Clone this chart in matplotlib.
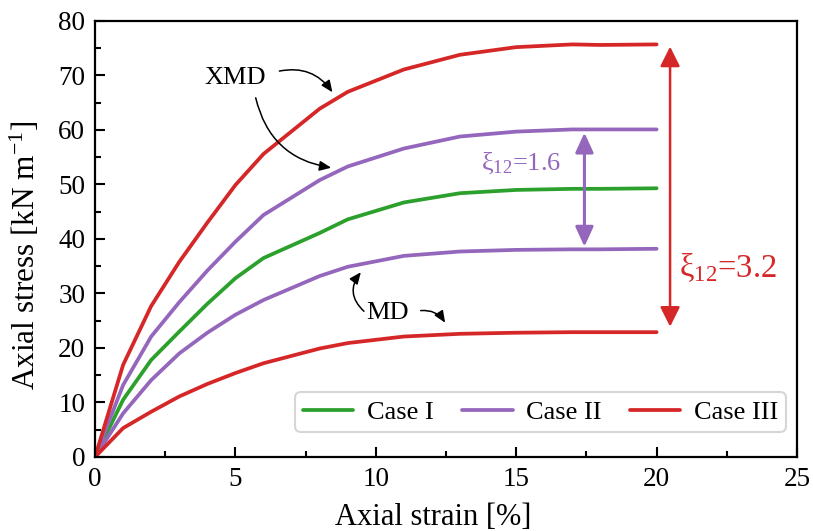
import matplotlib
matplotlib.use("Agg")
import matplotlib.pyplot as plt

plt.rcParams["font.family"] = ["Liberation Serif", "DejaVu Serif"]
plt.rcParams["mathtext.fontset"] = "custom"
plt.rcParams["mathtext.rm"] = "Liberation Serif"
plt.rcParams["mathtext.it"] = "Liberation Serif:italic"

# Axial strain sampling points [%]
strain = [0, 1, 2, 3, 4, 5, 6, 8, 9, 11, 13, 15, 17, 18, 20]

# Axial stress [kN/m]
case1 = [0, 10.5, 17.8, 23.0, 28.1, 32.8, 36.5, 41.1, 43.6, 46.7, 48.4, 49.0, 49.2, 49.2, 49.3]
case2_xmd = [0, 13.2, 22.1, 28.4, 34.2, 39.5, 44.4, 50.8, 53.3, 56.6, 58.8, 59.7, 60.1, 60.1, 60.1]
case2_md = [0, 8.0, 14.1, 19.0, 22.8, 26.1, 28.8, 33.2, 34.9, 36.9, 37.7, 38.0, 38.1, 38.1, 38.2]
case3_xmd = [0, 16.9, 27.7, 35.8, 43.0, 49.9, 55.6, 63.9, 67.0, 71.1, 73.8, 75.2, 75.7, 75.6, 75.7]
case3_md = [0, 5.3, 8.3, 11.1, 13.4, 15.4, 17.2, 19.9, 20.9, 22.1, 22.6, 22.8, 22.9, 22.9, 22.9]

labels = ["Case I", "Case II", "Case III"]
colors = ["#2ca02c", "#9467bd", "#d62728"]

xi_case2 = 1.6
xi_case3 = 3.2

fig = plt.figure(figsize=(8.13, 5.31), dpi=100)
ax = fig.add_axes([0.1169, 0.1394, 0.8634, 0.8211])

lw = 2.7
ax.plot(strain, case1, color=colors[0], lw=lw, label=labels[0], solid_capstyle="round")
ax.plot(strain, case2_xmd, color=colors[1], lw=lw, label=labels[1], solid_capstyle="round")
ax.plot(strain, case2_md, color=colors[1], lw=lw, solid_capstyle="round")
ax.plot(strain, case3_xmd, color=colors[2], lw=lw, label=labels[2], solid_capstyle="round")
ax.plot(strain, case3_md, color=colors[2], lw=lw, solid_capstyle="round")

ax.set_xlim(0, 25)
ax.set_ylim(0, 80)
ax.set_xticks(range(0, 26, 5))
ax.set_yticks(range(0, 81, 10))
ax.set_xticks([2.5 + 5 * i for i in range(5)], minor=True)
ax.set_yticks([5 + 10 * i for i in range(8)], minor=True)
ax.tick_params(which="both", direction="in", width=1.5, labelsize=19.5, pad=7)
ax.tick_params(which="major", length=7)
ax.tick_params(which="minor", length=4.5)
for s in ax.spines.values():
    s.set_linewidth(1.6)

ax.set_xlabel("Axial strain [%]", fontsize=22)
ax.set_ylabel(r"Axial stress [kN m$^{\mathregular{-1}}$]", fontsize=22.5)
ax.xaxis.set_label_coords(0.4815, -0.105)
ax.yaxis.set_label_coords(-0.075, 0.463)

# direction labels with curved pointers
arrow_kw = dict(arrowstyle="-|>,head_length=0.7,head_width=0.3", color="black", lw=1.1)
ax.text(4.99, 69.6, "XMD", fontsize=19, ha="center", va="center")
ax.annotate("", xy=(8.51, 66.5), xytext=(6.47, 70.7),
            arrowprops=dict(connectionstyle="arc3,rad=-0.35", **arrow_kw))
ax.annotate("", xy=(8.51, 53.0), xytext=(5.70, 66.4),
            arrowprops=dict(connectionstyle="arc3,rad=0.35", **arrow_kw))
ax.text(10.43, 26.4, "MD", fontsize=19, ha="center", va="center")
ax.annotate("", xy=(9.53, 34.3), xytext=(9.65, 26.4),
            arrowprops=dict(connectionstyle="arc3,rad=-0.5", **arrow_kw))
ax.annotate("", xy=(12.52, 24.2), xytext=(11.5, 26.8),
            arrowprops=dict(connectionstyle="arc3,rad=-0.35", **arrow_kw))

# anisotropy ratio spans
ax.annotate("", xy=(17.43, case2_xmd[-1] - 0.6), xytext=(17.43, case2_md[-1] + 0.4),
            arrowprops=dict(arrowstyle="<|-|>,head_length=1.2,head_width=0.55",
                            color=colors[1], lw=2.2, shrinkA=0, shrinkB=0))
ax.text(15.17, 53.9, r"ξ$_{\mathregular{12}}$=%.1f" % xi_case2, color=colors[1],
        fontsize=19, ha="center", va="center")
ax.annotate("", xy=(20.48, case3_xmd[-1] - 0.4), xytext=(20.48, case3_md[-1] + 1.0),
            arrowprops=dict(arrowstyle="<|-|>,head_length=1.2,head_width=0.6",
                            color=colors[2], lw=1.8, shrinkA=0, shrinkB=0))
ax.text(22.54, 34.7, r"ξ$_{\mathregular{12}}$=%.1f" % xi_case3, color=colors[2],
        fontsize=23.5, ha="center", va="center")

leg = ax.legend(loc="lower right", bbox_to_anchor=(0.984, 0.058), ncol=3, fontsize=19,
                frameon=True, fancybox=True, edgecolor="#cccccc", handlelength=1.9,
                columnspacing=1.1, handletextpad=0.5, borderpad=0.3, borderaxespad=0)
leg.get_frame().set_linewidth(1.5)

fig.savefig("out.png", dpi=100)
